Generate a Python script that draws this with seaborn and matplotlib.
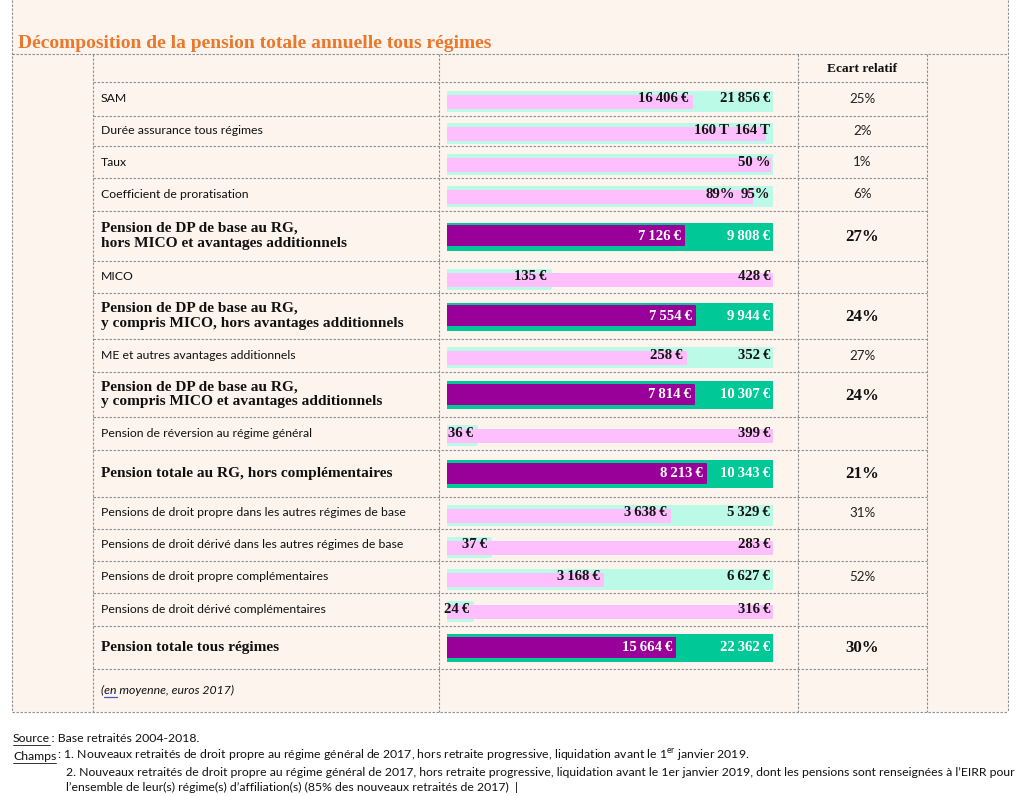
import numpy as np
import pandas as pd
import matplotlib
matplotlib.use("Agg")
import matplotlib.pyplot as plt
import matplotlib.transforms as mtransforms
from matplotlib.patches import Rectangle
import seaborn as sns

# --- données ---
row_labels = [
    "SAM",
    "Durée assurance tous régimes",
    "Taux",
    "Coefficient de proratisation",
    "Pension de DP de base au RG,\nhors MICO et avantages additionnels",
    "MICO",
    "Pension de DP de base au RG,\ny compris MICO, hors avantages additionnels",
    "ME et autres avantages additionnels",
    "Pension de DP de base au RG,\ny compris MICO et avantages additionnels",
    "Pension de réversion au régime général",
    "Pension totale au RG, hors complémentaires",
    "Pensions de droit propre dans les autres régimes de base",
    "Pensions de droit dérivé dans les autres régimes de base",
    "Pensions de droit propre complémentaires",
    "Pensions de droit dérivé complémentaires",
    "Pension totale tous régimes",
]
is_total = [False, False, False, False, True, False, True, False, True,
            False, True, False, False, False, False, True]
# série rose / violette
values_a = [16406, 160, 49.5, 89, 7126, 428, 7554, 258, 7814, 399, 8213, 3638, 283, 3168, 316, 15664]
# série turquoise
values_b = [21856, 164, 50, 95, 9808, 135, 9944, 352, 10307, 36, 10343, 5329, 37, 6627, 24, 22362]
text_a = ["16\u2009406\u2009€", "160\u2009T", "", "89%", "7\u2009126\u2009€", "428\u2009€",
          "7\u2009554\u2009€", "258\u2009€", "7\u2009814\u2009€", "399\u2009€", "8\u2009213\u2009€",
          "3\u2009638\u2009€", "283\u2009€", "3\u2009168\u2009€", "316\u2009€", "15\u2009664\u2009€"]
text_b = ["21\u2009856\u2009€", "164\u2009T", "50\u2009%", "95%", "9\u2009808\u2009€", "135\u2009€",
          "9\u2009944\u2009€", "352\u2009€", "10\u2009307\u2009€", "36\u2009€", "10\u2009343\u2009€",
          "5\u2009329\u2009€", "37\u2009€", "6\u2009627\u2009€", "24\u2009€", "22\u2009362\u2009€"]
ecart = ["25%", "2%", "1%", "6%", "27%", "", "24%", "27%", "24%", "",
         "21%", "31%", "", "52%", "", "30%"]

title = "Décomposition de la pension totale annuelle tous régimes"

# --- mise en page (pixels) ---
W, H = 1021, 796
row_edges = [54, 82, 116, 146, 178, 211, 261, 293, 339, 372, 417, 450, 497,
             529, 561, 593, 626, 669, 712]
col_edges = [12, 93, 439, 798, 927, 1008]
bar_x0, bar_x1 = 447, 773

cream = "#FDF4EE"
grid_c = "#8E8E8E"
purple = "#990099"
teal = "#00C896"
pink = "#FFBFFF"
mint = "#BAFAE6"
orange = "#E9782C"

SERIF = ["Liberation Serif", "DejaVu Serif"]
SANS = ["Lato", "DejaVu Sans"]
FS_SANS = 8.8

sns.set_theme(style="white")
plt.rcParams["font.family"] = SANS

fig = plt.figure(figsize=(W / 100, H / 100), dpi=100)
fig.patch.set_facecolor("white")
ax = fig.add_axes([0, 0, 1, 1])
ax.set_xlim(0, W)
ax.set_ylim(H, 0)
ax.axis("off")
renderer = fig.canvas.get_renderer()

ax.add_patch(Rectangle((col_edges[0], 0), col_edges[-1] - col_edges[0], row_edges[-1],
                       facecolor=cream, edgecolor="none", zorder=0))

dash = (0, (2.2, 1.4))
lw_grid = 0.8
# cadre extérieur
for x in (col_edges[0], col_edges[-1]):
    ax.plot([x, x], [0, row_edges[-1]], color=grid_c, lw=lw_grid, ls=dash)
for y in (row_edges[0], row_edges[-1]):
    ax.plot([col_edges[0], col_edges[-1]], [y, y], color=grid_c, lw=lw_grid, ls=dash)
# colonnes internes
for x in col_edges[1:-1]:
    ax.plot([x, x], [row_edges[0], row_edges[-1]], color=grid_c, lw=lw_grid, ls=dash)
for y in row_edges[1:-1]:
    ax.plot([col_edges[1], col_edges[-2]], [y, y], color=grid_c, lw=lw_grid, ls=dash)

ax.text(18, 44, title, family=SERIF, weight="bold", fontsize=14, color=orange,
        va="center", ha="left")

# en-tête
ecart_x = (col_edges[3] + col_edges[4]) / 2
ax.text(ecart_x, (row_edges[0] + row_edges[1]) / 2 + 1,
        "Ecart relatif", family=SERIF, weight="bold", fontsize=9.6, color="#111111",
        ha="center", va="center")

# axes des barres
bx = fig.add_axes([bar_x0 / W, 0, (bar_x1 - bar_x0) / W, 1])
bx.set_xlim(0, 1)
bx.set_ylim(H, 0)

bar_labels = []
for i, lab in enumerate(row_labels):
    top, bot = row_edges[i + 1], row_edges[i + 2]
    yc = (top + bot) / 2
    vmax = max(values_a[i], values_b[i])
    fa, fb = values_a[i] / vmax, values_b[i] / vmax

    if is_total[i]:
        ax.text(101, yc, lab, family=SERIF, weight="bold", fontsize=11.1,
                color="#111111", va="center", ha="left", linespacing=1.2)
        ax.text(ecart_x, yc + 1, ecart[i], family=SERIF,
                weight="bold", fontsize=12.2, color="#111111", ha="center", va="center")
        txt_c = "white"
        layers = [(fb, teal, 28, 7, yc), (fa, purple, 21, 2, yc - 0.5)]
    else:
        ax.text(101, yc, lab, fontsize=FS_SANS, color="#111111", va="center", ha="left")
        ax.text(ecart_x, yc, ecart[i], fontsize=9.6,
                color="#222222", ha="center", va="center")
        txt_c = "#141414"
        layers = [(fb, mint, 21, 4, yc + 2), (fa, pink, 14, 1, yc + 2)]

    for frac, c, h, lw_px, ypos in layers:
        d = pd.DataFrame({"frac": [frac], "pos": [ypos]})
        sns.barplot(data=d, x="frac", y="pos", orient="y", native_scale=True,
                    width=h - lw_px, color=c, saturation=1, errorbar=None,
                    linewidth=lw_px * 0.72, edgecolor=c, joinstyle="round", ax=bx)

    bar_labels.append((fa, fb, yc, txt_c))

bx.set_xlim(0, 1)
bx.set_ylim(H, 0)
bx.set_axis_off()

# étiquettes de valeurs, à l'extrémité de chaque barre
for i, (fa, fb, yc, txt_c) in enumerate(bar_labels):
    kw = dict(family=SERIF, weight="bold", fontsize=10.6, color=txt_c,
              ha="right", va="center", zorder=5)
    off_b = mtransforms.offset_copy(bx.transData, fig=fig, x=-3, y=0, units="dots")
    tb = bx.text(fb, yc, text_b[i], transform=off_b, **kw)
    if text_a[i]:
        dx = -3
        if fa <= fb:
            bb = tb.get_window_extent(renderer)
            end_a = bx.transData.transform((fa, yc))[0]
            dx = min(-3, bb.x0 - 6 - end_a)
        off_a = mtransforms.offset_copy(bx.transData, fig=fig, x=dx, y=0, units="dots")
        bx.text(fa, yc, text_a[i], transform=off_a, **kw)

# note de bas de tableau
note_y = (row_edges[-2] + row_edges[-1]) / 2
ax.text(101, note_y, "(en moyenne, euros 2017)",
        style="italic", fontsize=FS_SANS, color="#111111", va="center", ha="left")
# soulignement du correcteur sous « en »
t1 = ax.text(101, note_y, "(", style="italic", fontsize=FS_SANS, alpha=0)
t2 = ax.text(101, note_y, "(en", style="italic", fontsize=FS_SANS, alpha=0)
x_a = 101 + t1.get_window_extent(renderer).width
x_b = 101 + t2.get_window_extent(renderer).width
ax.plot([x_a, x_b], [note_y + 6.5, note_y + 6.5], color="#3B5FC0", lw=0.9)


def underlined(x, y, word, rest):
    t = ax.text(x, y, word, fontsize=FS_SANS, color="#111111", va="center", ha="left")
    bb = t.get_window_extent(renderer)
    x_end = x + bb.width
    ax.plot([x, x_end], [y + 6.5, y + 6.5], color="#111111", lw=0.6)
    ax.text(x_end, y, rest, fontsize=FS_SANS, color="#111111", va="center", ha="left")


underlined(13, 738, "Source", "\u2009: Base retraités 2004-2018.")
underlined(13, 756, "Champs",
           "\u2009: 1. Nouveaux retraités de droit propre au régime général de 2017, hors retraite "
           "progressive, liquidation avant le 1$^{\\mathregular{er}}$ janvier 2019.")
ax.text(66, 772, "2. Nouveaux retraités de droit propre au régime général de 2017, hors retraite "
        "progressive, liquidation avant le 1er janvier 2019, dont les pensions sont renseignées à "
        "l\u2019EIRR pour", fontsize=FS_SANS, color="#111111", va="center", ha="left")
ax.text(66, 787, "l\u2019ensemble de leur(s) régime(s) d\u2019affiliation(s) (85% des nouveaux "
        "retraités de 2017)  |", fontsize=FS_SANS, color="#111111", va="center", ha="left")

fig.savefig("out.png", dpi=100, facecolor="white")
